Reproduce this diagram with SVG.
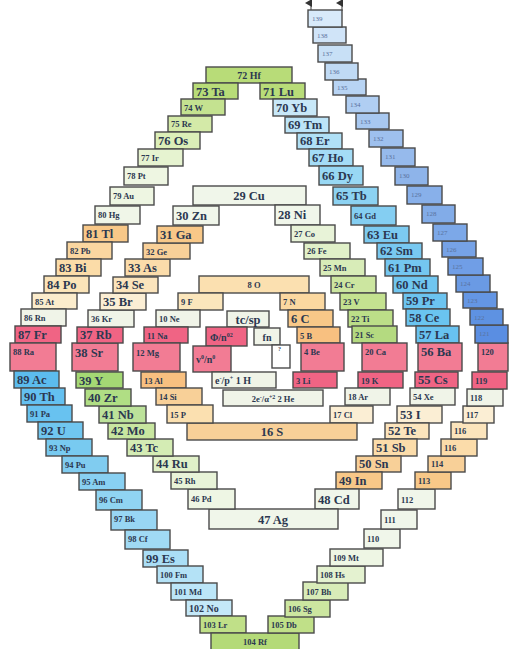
<svg xmlns="http://www.w3.org/2000/svg" width="510" height="649" viewBox="0 0 510 649">
<style>
rect{stroke:#4a4a4a;stroke-width:1.4}
text{font-family:"Liberation Serif","DejaVu Serif",serif;font-weight:bold;fill:#2c3850}
.s{font-size:8.5px}.m{font-size:10px}.l{font-size:12.5px}.c{text-anchor:middle}
.g{font-size:7px;font-weight:normal;fill:#5a72a0}
.sup{font-size:6px}
</style>
<defs>
<marker id="ah" markerWidth="8" markerHeight="8" refX="4" refY="6" orient="auto-start-reverse" markerUnits="userSpaceOnUse">
<path d="M0,7 L4,0 L8,7 Z" fill="#333"/>
</marker>
</defs>
<g id="connectors">
<line x1="311" y1="11" x2="311" y2="3" stroke="#555" stroke-width="1.2" marker-end="url(#ah)"/>
<line x1="342" y1="11" x2="342" y2="3" stroke="#555" stroke-width="1.2" marker-end="url(#ah)"/>
</g>
<!-- outer left arm -->
<g id="e72"><rect x="206" y="67" width="86" height="16" fill="#b8dc78"/><text x="249" y="79" class="m c">72  Hf</text></g>
<g id="e73"><rect x="193" y="83" width="45" height="16" fill="#b8dc78"/><text x="196" y="96" class="l">73 Ta</text></g>
<g id="e74"><rect x="181" y="99" width="44" height="16" fill="#c4e290"/><text x="184" y="111" class="s">74 W</text></g>
<g id="e75"><rect x="168" y="116" width="44" height="16" fill="#d4eaa8"/><text x="171" y="127" class="s">75 Re</text></g>
<g id="e76"><rect x="155" y="132" width="45" height="17" fill="#dcefb8"/><text x="158" y="145" class="l">76 Os</text></g>
<g id="e77"><rect x="138" y="149" width="45" height="17" fill="#e6f3d0"/><text x="141" y="161" class="s">77  Ir</text></g>
<g id="e78"><rect x="124" y="167" width="44" height="18" fill="#eef6e2"/><text x="127" y="179" class="s">78 Pt</text></g>
<g id="e79"><rect x="110" y="187" width="44" height="18" fill="#eef6e2"/><text x="113" y="199" class="s">79 Au</text></g>
<g id="e80"><rect x="95" y="206" width="45" height="18" fill="#f0f6e8"/><text x="98" y="218" class="s">80 Hg</text></g>
<g id="e81"><rect x="83" y="225" width="45" height="17" fill="#f8c888"/><text x="86" y="238" class="l">81 Tl</text></g>
<g id="e82"><rect x="67" y="242" width="45" height="17" fill="#fad6a0"/><text x="70" y="254" class="s">82 Pb</text></g>
<g id="e83"><rect x="56" y="259" width="45" height="17" fill="#fbdca8"/><text x="59" y="272" class="l">83 Bi</text></g>
<g id="e84"><rect x="44" y="276" width="45" height="17" fill="#fbe4b8"/><text x="47" y="289" class="l">84 Po</text></g>
<g id="e85"><rect x="32" y="293" width="45" height="16" fill="#fbeccc"/><text x="35" y="305" class="s">85 At</text></g>
<g id="e86"><rect x="21" y="309" width="45" height="17" fill="#f0f4e8"/><text x="24" y="321" class="s">86 Rn</text></g>
<g id="e87"><rect x="15" y="326" width="46" height="17" fill="#f06484"/><text x="18" y="339" class="l">87 Fr</text></g>
<g id="e88"><rect x="10" y="343" width="46" height="28" fill="#f27c94"/><text x="13" y="355" class="s">88  Ra</text></g>
<g id="e89"><rect x="14" y="371" width="45" height="17" fill="#5cbcee"/><text x="17" y="384" class="l">89 Ac</text></g>
<g id="e90"><rect x="21" y="388" width="44" height="17" fill="#64c0f0"/><text x="24" y="401" class="l">90 Th</text></g>
<g id="e91"><rect x="27" y="405" width="45" height="17" fill="#68c2f0"/><text x="30" y="417" class="s">91 Pa</text></g>
<g id="e92"><rect x="38" y="422" width="45" height="17" fill="#70c6f0"/><text x="41" y="435" class="l">92 U</text></g>
<g id="e93"><rect x="46" y="439" width="46" height="17" fill="#78caf0"/><text x="49" y="451" class="s">93 Np</text></g>
<g id="e94"><rect x="62" y="456" width="46" height="17" fill="#80ccf0"/><text x="65" y="468" class="s">94 Pu</text></g>
<g id="e95"><rect x="79" y="473" width="46" height="17" fill="#88d0f2"/><text x="82" y="485" class="s">95 Am</text></g>
<g id="e96"><rect x="96" y="490" width="46" height="20" fill="#90d4f2"/><text x="99" y="503" class="s">96 Cm</text></g>
<g id="e97"><rect x="111" y="510" width="46" height="20" fill="#98d6f4"/><text x="114" y="522" class="s">97 Bk</text></g>
<g id="e98"><rect x="125" y="530" width="45" height="19" fill="#a0daf4"/><text x="128" y="542" class="s">98 Cf</text></g>
<g id="e99"><rect x="143" y="550" width="45" height="17" fill="#aadef6"/><text x="146" y="563" class="l">99 Es</text></g>
<g id="e100"><rect x="157" y="566" width="46" height="17" fill="#b4e2f6"/><text x="160" y="578" class="s">100 Fm</text></g>
<g id="e101"><rect x="171" y="583" width="46" height="17" fill="#bce6f8"/><text x="174" y="595" class="s">101 Md</text></g>
<g id="e102"><rect x="186" y="600" width="46" height="16" fill="#c4e8f8"/><text x="189" y="612" class="m">102 No</text></g>
<g id="e103"><rect x="200" y="616" width="46" height="17" fill="#c0e088"/><text x="203" y="628" class="s">103 Lr</text></g>
<g id="e104"><rect x="211" y="633" width="88" height="18" fill="#b4da78"/><text x="255" y="645" class="s c">104  Rf</text></g>
<g id="e105"><rect x="268" y="616" width="46" height="17" fill="#c0e088"/><text x="271" y="628" class="s">105 Db</text></g>
<g id="e106"><rect x="285" y="600" width="45" height="17" fill="#cce6a0"/><text x="288" y="612" class="s">106 Sg</text></g>
<g id="e107"><rect x="303" y="582" width="45" height="18" fill="#d8ecb8"/><text x="306" y="595" class="s">107 Bh</text></g>
<g id="e108"><rect x="317" y="566" width="48" height="17" fill="#e4f2d0"/><text x="320" y="578" class="s">108 Hs</text></g>
<g id="e109"><rect x="330" y="549" width="53" height="17" fill="#eef6e4"/><text x="333" y="561" class="s">109 Mt</text></g>
<g id="e110"><rect x="364" y="529" width="36" height="19" fill="#f0f6ea"/><text x="367" y="542" class="s">110</text></g>
<g id="e111"><rect x="381" y="510" width="36" height="19" fill="#f0f6ea"/><text x="384" y="523" class="s">111</text></g>
<g id="e112"><rect x="398" y="489" width="37" height="20" fill="#f0f6ea"/><text x="401" y="503" class="s">112</text></g>
<g id="e113"><rect x="415" y="472" width="36" height="17" fill="#f8c888"/><text x="418" y="484" class="s">113</text></g>
<g id="e114"><rect x="428" y="456" width="37" height="16" fill="#f8d098"/><text x="431" y="467" class="s">114</text></g>
<g id="e116b"><rect x="441" y="439" width="36" height="17" fill="#fbdcaa"/><text x="444" y="451" class="s">116</text></g>
<g id="e116a"><rect x="451" y="422" width="36" height="17" fill="#fbe4bc"/><text x="454" y="434" class="s">116</text></g>
<g id="e117"><rect x="463" y="406" width="31" height="17" fill="#fbeed4"/><text x="466" y="418" class="s">117</text></g>
<g id="e118"><rect x="467" y="389" width="36" height="17" fill="#f0f4e8"/><text x="470" y="401" class="s">118</text></g>
<g id="e119"><rect x="472" y="372" width="35" height="17" fill="#f06484"/><text x="475" y="384" class="s">119</text></g>
<g id="e120"><rect x="478" y="343" width="30" height="28" fill="#f27c94"/><text x="481" y="355" class="s">120</text></g>
<g id="e121"><rect x="475" y="325" width="33" height="18" fill="#5a8ee2"/><text x="479" y="336" class="g">121</text></g>
<g id="e122"><rect x="470" y="309" width="33" height="16" fill="#5e92e2"/><text x="474" y="320" class="g">122</text></g>
<g id="e123"><rect x="463" y="292" width="34" height="16" fill="#6496e4"/><text x="467" y="303" class="g">123</text></g>
<g id="e124"><rect x="456" y="275" width="34" height="17" fill="#6a9ae4"/><text x="460" y="286" class="g">124</text></g>
<g id="e125"><rect x="448" y="258" width="35" height="17" fill="#709ee6"/><text x="452" y="269" class="g">125</text></g>
<g id="e126"><rect x="442" y="241" width="34" height="16" fill="#76a2e6"/><text x="446" y="252" class="g">126</text></g>
<g id="e127"><rect x="433" y="224" width="34" height="17" fill="#7ca8e8"/><text x="437" y="235" class="g">127</text></g>
<g id="e128"><rect x="422" y="205" width="33" height="18" fill="#82ace8"/><text x="426" y="216" class="g">128</text></g>
<g id="e129"><rect x="407" y="186" width="35" height="18" fill="#88b0ea"/><text x="411" y="197" class="g">129</text></g>
<g id="e130"><rect x="395" y="167" width="33" height="18" fill="#8eb4ea"/><text x="399" y="178" class="g">130</text></g>
<g id="e131"><rect x="381" y="148" width="34" height="18" fill="#96baec"/><text x="385" y="159" class="g">131</text></g>
<g id="e132"><rect x="369" y="130" width="34" height="17" fill="#9ec0ee"/><text x="373" y="141" class="g">132</text></g>
<g id="e133"><rect x="356" y="113" width="33" height="16" fill="#a8c8f0"/><text x="360" y="124" class="g">133</text></g>
<g id="e134"><rect x="346" y="96" width="33" height="17" fill="#b0cef2"/><text x="350" y="107" class="g">134</text></g>
<g id="e135"><rect x="333" y="79" width="33" height="16" fill="#b8d4f4"/><text x="337" y="90" class="g">135</text></g>
<g id="e136"><rect x="325" y="63" width="33" height="17" fill="#c0daf4"/><text x="329" y="74" class="g">136</text></g>
<g id="e137"><rect x="318" y="45" width="34" height="17" fill="#c8e0f6"/><text x="322" y="56" class="g">137</text></g>
<g id="e138"><rect x="313" y="27" width="33" height="16" fill="#d0e4f8"/><text x="317" y="38" class="g">138</text></g>
<g id="e139"><rect x="308" y="10" width="34" height="17" fill="#d8eafa"/><text x="312" y="21" class="g">139</text></g>
<!-- lanthanide arm -->
<g id="e71"><rect x="260" y="83" width="45" height="16" fill="#b8dc78"/><text x="263" y="96" class="l">71 Lu</text></g>
<g id="e70"><rect x="273" y="99" width="44" height="17" fill="#c8e8f8"/><text x="276" y="112" class="l">70 Yb</text></g>
<g id="e69"><rect x="285" y="117" width="44" height="16" fill="#bce4f8"/><text x="288" y="129" class="l">69 Tm</text></g>
<g id="e68"><rect x="297" y="133" width="45" height="16" fill="#b0e0f6"/><text x="300" y="145" class="l">68 Er</text></g>
<g id="e67"><rect x="309" y="149" width="44" height="17" fill="#a4dcf6"/><text x="312" y="162" class="l">67 Ho</text></g>
<g id="e66"><rect x="319" y="166" width="44" height="19" fill="#98d8f4"/><text x="322" y="180" class="l">66 Dy</text></g>
<g id="e65"><rect x="333" y="187" width="45" height="18" fill="#8cd2f2"/><text x="336" y="200" class="l">65 Tb</text></g>
<g id="e64"><rect x="351" y="206" width="45" height="19" fill="#84cef2"/><text x="354" y="219" class="s">64 Gd</text></g>
<g id="e63"><rect x="364" y="226" width="45" height="17" fill="#7ccaf0"/><text x="367" y="239" class="l">63 Eu</text></g>
<g id="e62"><rect x="377" y="243" width="45" height="16" fill="#78c8f0"/><text x="380" y="255" class="l">62 Sm</text></g>
<g id="e61"><rect x="385" y="259" width="45" height="17" fill="#74c6f0"/><text x="388" y="272" class="l">61 Pm</text></g>
<g id="e60"><rect x="393" y="276" width="45" height="17" fill="#70c6f0"/><text x="396" y="289" class="l">60 Nd</text></g>
<g id="e59"><rect x="403" y="293" width="44" height="16" fill="#6cc4f0"/><text x="406" y="305" class="l">59 Pr</text></g>
<g id="e58"><rect x="406" y="309" width="44" height="17" fill="#6ac4f0"/><text x="409" y="322" class="l">58 Ce</text></g>
<g id="e57"><rect x="416" y="326" width="43" height="17" fill="#68c2f0"/><text x="419" y="339" class="l">57 La</text></g>
<g id="e56"><rect x="418" y="343" width="44" height="28" fill="#f27c94"/><text x="421" y="356" class="l">56 Ba</text></g>
<g id="e55"><rect x="415" y="372" width="43" height="16" fill="#f06484"/><text x="418" y="384" class="l">55 Cs</text></g>
<g id="e54"><rect x="410" y="388" width="45" height="17" fill="#f0f4e8"/><text x="413" y="400" class="s">54 Xe</text></g>
<g id="e53"><rect x="397" y="406" width="45" height="17" fill="#fbeed4"/><text x="400" y="419" class="l">53 I</text></g>
<g id="e52"><rect x="385" y="423" width="44" height="16" fill="#fbe4bc"/><text x="388" y="435" class="l">52 Te</text></g>
<g id="e51"><rect x="373" y="439" width="44" height="17" fill="#fbdcaa"/><text x="376" y="452" class="l">51 Sb</text></g>
<g id="e50"><rect x="356" y="456" width="45" height="16" fill="#f8d098"/><text x="359" y="468" class="l">50 Sn</text></g>
<g id="e49"><rect x="336" y="472" width="46" height="17" fill="#f8c888"/><text x="339" y="485" class="l">49 In</text></g>
<g id="e48"><rect x="315" y="489" width="44" height="20" fill="#f0f6ea"/><text x="318" y="504" class="l">48 Cd</text></g>
<g id="e47"><rect x="209" y="509" width="129" height="20" fill="#f0f6ea"/><text x="273" y="524" class="l c">47  Ag</text></g>
<g id="e46"><rect x="188" y="489" width="47" height="20" fill="#eef6e4"/><text x="191" y="502" class="s">46  Pd</text></g>
<g id="e45"><rect x="171" y="472" width="46" height="17" fill="#e8f3d8"/><text x="174" y="484" class="s">45 Rh</text></g>
<g id="e44"><rect x="153" y="456" width="46" height="16" fill="#e0f0c8"/><text x="156" y="468" class="l">44 Ru</text></g>
<g id="e43"><rect x="127" y="439" width="46" height="17" fill="#d4ecb4"/><text x="130" y="452" class="l">43 Tc</text></g>
<g id="e42"><rect x="108" y="423" width="47" height="16" fill="#c8e6a0"/><text x="111" y="435" class="l">42 Mo</text></g>
<g id="e41"><rect x="99" y="406" width="47" height="17" fill="#bce29a"/><text x="102" y="419" class="l">41 Nb</text></g>
<g id="e40"><rect x="85" y="389" width="46" height="17" fill="#b0de84"/><text x="88" y="402" class="l">40 Zr</text></g>
<g id="e39"><rect x="76" y="372" width="47" height="16" fill="#a4d874"/><text x="79" y="385" class="l">39 Y</text></g>
<g id="e38"><rect x="72" y="343" width="46" height="28" fill="#f27c94"/><text x="75" y="357" class="l">38 Sr</text></g>
<g id="e37"><rect x="77" y="327" width="46" height="16" fill="#f06484"/><text x="80" y="339" class="l">37 Rb</text></g>
<g id="e36"><rect x="88" y="310" width="46" height="17" fill="#f0f4e8"/><text x="91" y="322" class="s">36 Kr</text></g>
<g id="e35"><rect x="100" y="293" width="46" height="17" fill="#fbeed4"/><text x="103" y="306" class="l">35 Br</text></g>
<g id="e34"><rect x="113" y="277" width="45" height="16" fill="#fbe4bc"/><text x="116" y="289" class="l">34 Se</text></g>
<g id="e33"><rect x="125" y="259" width="45" height="17" fill="#fbdcaa"/><text x="128" y="272" class="l">33 As</text></g>
<g id="e32"><rect x="143" y="243" width="47" height="16" fill="#f8d098"/><text x="146" y="255" class="s">32 Ge</text></g>
<g id="e31"><rect x="157" y="226" width="46" height="17" fill="#f8c888"/><text x="160" y="239" class="l">31 Ga</text></g>
<g id="e30"><rect x="173" y="206" width="46" height="19" fill="#f0f6ea"/><text x="176" y="220" class="l">30 Zn</text></g>
<g id="e29"><rect x="193" y="186" width="113" height="19" fill="#f0f6ea"/><text x="249" y="200" class="l c">29  Cu</text></g>
<g id="e28"><rect x="275" y="205" width="45" height="20" fill="#f0f6ea"/><text x="278" y="219" class="l">28 Ni</text></g>
<g id="e27"><rect x="291" y="225" width="44" height="17" fill="#e8f3d8"/><text x="294" y="237" class="s">27 Co</text></g>
<g id="e26"><rect x="304" y="243" width="46" height="16" fill="#e0f0c8"/><text x="307" y="254" class="s">26 Fe</text></g>
<g id="e25"><rect x="320" y="259" width="45" height="17" fill="#d8ecb8"/><text x="323" y="271" class="s">25 Mn</text></g>
<g id="e24"><rect x="331" y="276" width="45" height="17" fill="#cce6a0"/><text x="334" y="288" class="s">24 Cr</text></g>
<g id="e23"><rect x="340" y="293" width="46" height="17" fill="#c4e290"/><text x="343" y="305" class="s">23 V</text></g>
<g id="e22"><rect x="348" y="310" width="45" height="17" fill="#bcde88"/><text x="351" y="322" class="s">22 Ti</text></g>
<g id="e21"><rect x="352" y="326" width="45" height="17" fill="#b4da80"/><text x="355" y="338" class="s">21 Sc</text></g>
<g id="e20"><rect x="362" y="343" width="45" height="28" fill="#f27c94"/><text x="365" y="355" class="s">20 Ca</text></g>
<g id="e19"><rect x="358" y="372" width="45" height="16" fill="#f06484"/><text x="361" y="384" class="s">19 K</text></g>
<g id="e18"><rect x="345" y="388" width="45" height="17" fill="#f0f4e8"/><text x="348" y="400" class="s">18 Ar</text></g>
<g id="e17"><rect x="330" y="406" width="43" height="17" fill="#fbeed4"/><text x="333" y="418" class="s">17 Cl</text></g>
<g id="e16"><rect x="187" y="423" width="170" height="17" fill="#f8d098"/><text x="272" y="436" class="l c">16   S</text></g>
<!-- period 2/3 -->
<g id="e8"><rect x="199" y="276" width="110" height="17" fill="#fbe0b0"/><text x="254" y="288" class="s c">8  O</text></g>
<g id="e9"><rect x="178" y="293" width="45" height="17" fill="#fbe6bc"/><text x="181" y="305" class="s">9 F</text></g>
<g id="e7"><rect x="280" y="293" width="45" height="17" fill="#fbd8a0"/><text x="283" y="305" class="s">7 N</text></g>
<g id="e10"><rect x="156" y="310" width="44" height="17" fill="#f0f4e8"/><text x="159" y="322" class="s">10 Ne</text></g>
<g id="e6"><rect x="288" y="310" width="45" height="17" fill="#f8c888"/><text x="291" y="323" class="l">6 C</text></g>
<g id="e11"><rect x="144" y="327" width="44" height="16" fill="#f06484"/><text x="147" y="339" class="s">11 Na</text></g>
<g id="e5"><rect x="297" y="327" width="43" height="16" fill="#f8c080"/><text x="300" y="339" class="s">5 B</text></g>
<g id="e12"><rect x="133" y="343" width="47" height="28" fill="#f27c94"/><text x="136" y="356" class="s">12 Mg</text></g>
<g id="e4"><rect x="301" y="343" width="43" height="28" fill="#f27c94"/><text x="304" y="355" class="s">4 Be</text></g>
<g id="e13"><rect x="141" y="372" width="45" height="16" fill="#f8c080"/><text x="144" y="384" class="s">13 Al</text></g>
<g id="e3"><rect x="293" y="372" width="44" height="16" fill="#f06484"/><text x="296" y="384" class="s">3 Li</text></g>
<g id="e14"><rect x="156" y="388" width="46" height="17" fill="#f8d098"/><text x="159" y="400" class="s">14 Si</text></g>
<g id="e2"><rect x="223" y="390" width="100" height="16" fill="#f0f4e8"/><text x="273" y="402" class="s c">2e<tspan class="sup" dy="-3">-</tspan><tspan dy="3">/α</tspan><tspan class="sup" dy="-3">+2</tspan><tspan dy="3">   2  He</tspan></text></g>
<g id="e15"><rect x="167" y="405" width="46" height="18" fill="#fbe0b0"/><text x="170" y="418" class="s">15 P</text></g>
<!-- innermost -->
<g id="tcsp"><rect x="227" y="311" width="42" height="16" fill="#f0f4e8"/><text x="248" y="324" class="l c">tc/sp</text></g>
<g id="phi"><rect x="206" y="327" width="41" height="19" fill="#f06484"/><text x="210" y="341" class="m">Φ/n<tspan class="sup" dy="-4">02</tspan></text></g>
<g id="fn"><rect x="254" y="328" width="26" height="17" fill="#f0f4e8"/><text x="267" y="341" class="m c">fn</text></g>
<g id="nu"><rect x="193" y="346" width="38" height="26" fill="#f27c94"/><text x="196" y="363" class="m">v<tspan class="sup" dy="-4">0</tspan><tspan dy="4">/n</tspan><tspan class="sup" dy="-4">0</tspan></text></g>
<g id="blank"><rect x="272" y="345" width="18" height="23" fill="#ffffff"/><text x="278" y="351" class="sup">?</text></g>
<g id="e1"><rect x="212" y="372" width="64" height="16" fill="#f0f4e8"/><text x="215" y="384" class="m">e<tspan class="sup" dy="-4">-</tspan><tspan dy="4">/p</tspan><tspan class="sup" dy="-4">+</tspan><tspan dy="4">   1 H</tspan></text></g>
</svg>
